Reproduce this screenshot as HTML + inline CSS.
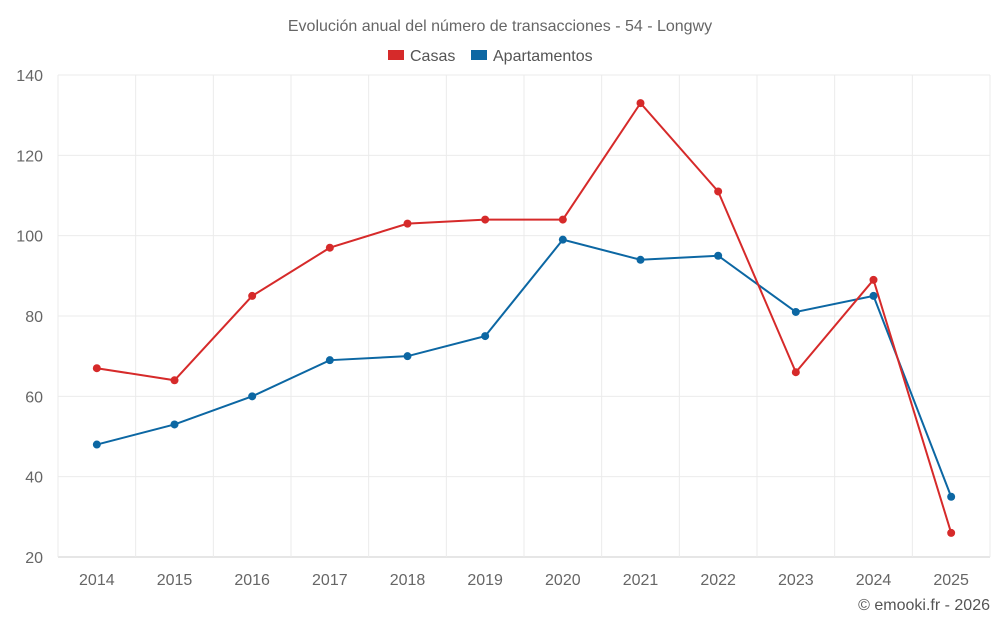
<!DOCTYPE html>
<html><head><meta charset="utf-8"><style>
body{margin:0;background:#fff;font-family:"Liberation Sans",Arial,sans-serif;}
svg text{font-family:"Liberation Sans",Arial,sans-serif;}
</style></head><body>
<svg id="chart" width="1000" height="625">
<text x="500" y="31" text-anchor="middle" font-size="16" fill="#666">Evolución anual del número de transacciones - 54 - Longwy</text>
<g>
<g><rect x="388" y="50" width="16" height="10" fill="#d62a2a"/><text x="410" y="61" font-size="16" fill="#555">Casas</text></g>
<g><rect x="471" y="50" width="16" height="10" fill="#0c67a3"/><text x="493" y="61" font-size="16" fill="#555">Apartamentos</text></g>
</g>
<g id="grid"></g><g id="axes"></g><g id="series"></g>
<text x="990" y="610" text-anchor="end" font-size="16" fill="#555">© emooki.fr - 2026</text>
</svg>
<script>
const years=["2014","2015","2016","2017","2018","2019","2020","2021","2022","2023","2024","2025"];
const casas=[67,64,85,97,103,104,104,133,111,66,89,26];
const apartamentos=[48,53,60,69,70,75,99,94,95,81,85,35];
const yTicks=[20,40,60,80,100,120,140];
const NS="http://www.w3.org/2000/svg";
const L=58,R=990,T=75,B=557,yMin=20,yMax=140;
const bw=(R-L)/years.length;
const xS=i=>L+bw*(i+0.5);
const yS=v=>B-(v-yMin)/(yMax-yMin)*(B-T);
function mk(tag,attrs,parent){const e=document.createElementNS(NS,tag);for(const k in attrs)e.setAttribute(k,attrs[k]);parent.appendChild(e);return e;}
const grid=document.getElementById('grid'),axes=document.getElementById('axes'),ser=document.getElementById('series');
yTicks.forEach(t=>{
 const y=yS(t);
 const g=mk('line',{x1:L,x2:R,y1:y,y2:y,stroke:t===yMin?'#ccc':'#ebebeb','stroke-width':1},grid);
 
 
 const tx=mk('text',{x:43,y:y+6,'text-anchor':'end','font-size':16,fill:'#666'},axes);
 tx.textContent=t;
 
 
});
for(let i=0;i<=years.length;i++){
 const x=L+bw*i;
 const g=mk('line',{x1:x,x2:x,y1:T,y2:B,stroke:'#ebebeb','stroke-width':1},grid);
 
 
}
years.forEach((yr,i)=>{
 const tx=mk('text',{x:xS(i),y:585,'text-anchor':'middle','font-size':16,fill:'#666'},axes);
 tx.textContent=yr;
 
 
});
function draw(data,color,name){
 const p=mk('polyline',{points:data.map((v,i)=>xS(i)+','+yS(v)).join(' '),fill:'none',stroke:color,'stroke-width':2},ser);
 
 
 data.forEach((v,i)=>{
  const c=mk('circle',{cx:xS(i),cy:yS(v),r:4,fill:color},ser);
  
  
 });
}
draw(apartamentos,'#0c67a3','apartamentos');
draw(casas,'#d62a2a','casas');
</script>
</body></html>
